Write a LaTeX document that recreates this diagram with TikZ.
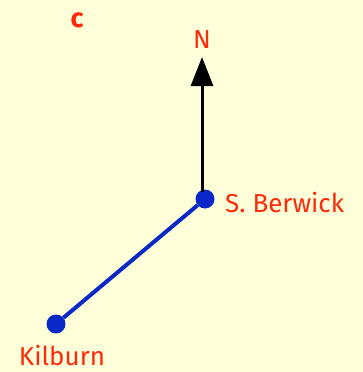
\documentclass[tikz,border=0pt]{standalone}
\usepackage{fontspec}
\setmainfont{Fira Sans}
\usetikzlibrary{arrows.meta}
\definecolor{bg}{HTML}{FFFFDA}
\definecolor{lbl}{HTML}{FF2A0A}
\definecolor{dotblue}{HTML}{0A28C8}
\begin{document}
\begin{tikzpicture}[x=1pt,y=-1pt,
  lab/.style={text=lbl,font=\fontsize{26}{30}\selectfont,inner sep=0pt},
  town/.style={circle,fill=dotblue,minimum size=19pt,inner sep=0pt}]
\fill[bg] (0,0) rectangle (363,372);
\useasboundingbox (0,0) rectangle (363,372);
\node[lab,font=\bfseries\fontsize{27}{30}\selectfont] (c) at (77,20) {c};
\node[town] (sb) at (205,199) {};
\node[town] (kb) at (56,324) {};
\coordinate (sbtop) at (202,192);
\coordinate (tip) at (202,57);
\node[lab] (n) at (202,40) {N};
\node[lab,anchor=west] (sbl) at (225,203) {S. Berwick};
\node[lab] (kbl) at (62,356) {Kilburn};
\draw[dotblue,line width=4pt] (kb) -- (sb);
\draw[line width=3pt,-{Triangle[length=29pt,width=22pt]}] (sbtop) -- (tip);
\end{tikzpicture}
\end{document}
